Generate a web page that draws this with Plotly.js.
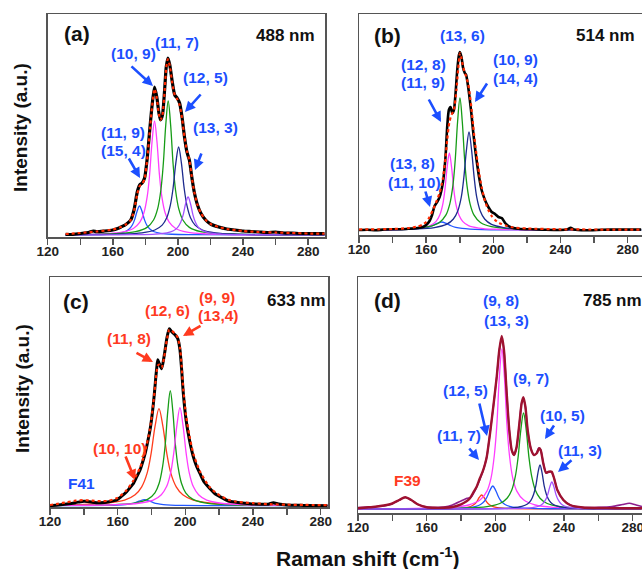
<!DOCTYPE html>
<html><head><meta charset="utf-8">
<script src="https://cdn.plot.ly/plotly-3.0.1.min.js"></script>
<style>html,body{margin:0;padding:0;background:#fff;overflow:hidden}#chart{width:642px;height:569px}</style>
</head><body><div id="chart"></div>
<script>
// ---------- Panel (a) 488 nm ----------
const a_data_x = [131,135,140,145,148,150,155,160,163,165,168,171,173,175,176.5,178,179.5,181,182.5,184,185.6,187,188.3,189.3,190.5,191.8,192.8,193.8,195,196.5,198,199.5,201,202.5,204,205.5,207,208.5,210,212,214,217,220,225,230,235,240,245,250,255,260,265,270,275,280,285,290];
const a_data_y = [0.7,0.5,1.5,2.5,4,3.3,4,5,6.5,8,10.5,15,25,43,50,52,57,75,102,128,148,138,122,115,120,145,168,177,170,153,140,137,132,118,98,83,75,58,43,30,22,15,11,8,6,5,4,3.5,3,2.5,3,2,2,1.5,1.5,1.3,1.3];
const a_fit_x = [131,140,150,160,165,168,171,173,175,176.5,178,179.5,181,182.5,184,185.6,187,188.3,189.3,190.5,191.8,192.8,193.8,195,196.5,198,199.5,201,202.5,204,205.5,207,208.5,210,212,214,217,220,225,230,240,250,260,270,280,290];
const a_fit_y = [1,2,3.5,5.5,8,10.5,15,24,41,49,51,56,74,100,127,146,137,121,115,120,144,167,176,169,152,140,136,130,117,98,84,75,58,43,30,22,15,11,8,6,4,3,2.5,2,1.5,1.3];
const a_blue_x = [131,144.4,156.4,163.4,167.4,169.9,171.9,173.4,174.9,176.4,177.9,179.4,180.9,182.9,185.4,189.4,196.4,208.4,290];
const a_blue_y = [0.14,0.29,0.73,1.66,3.25,5.66,9.74,15.4,23.8,29,23.8,15.4,9.74,5.66,3.25,1.66,0.73,0.29,0.03];
const a_mag_x = [131,153.6,165.6,172.6,176.6,179.1,181.1,182.6,184.1,185.6,187.1,188.6,190.1,192.1,194.6,198.6,205.6,217.6,290];
const a_mag_y = [0.39,1.13,2.85,6.51,12.8,22.2,38.3,60.6,93.5,114,93.5,60.6,38.3,22.2,12.8,6.51,2.85,1.13,0.11];
const a_green_x = [131,162,174,181,185,187.5,189.5,191,192.5,194,195.5,197,198.5,200.5,203,207,214,226,290];
const a_green_y = [0.33,1.33,3.35,7.65,15.0,26.1,45.0,71.3,109.9,134,109.9,71.3,45.0,26.1,15.0,7.65,3.35,1.33,0.15];
const a_navy_x = [131,164.4,177.9,185.8,190.3,193.1,195.3,197,198.7,200.4,202.1,203.8,205.5,207.7,210.5,215,222.9,236.4,290];
const a_navy_y = [0.24,0.87,2.2,5.02,9.86,17.2,29.6,46.8,72.2,88,72.2,46.8,29.6,17.2,9.86,5.02,2.2,0.87,0.14];
const a_vio_x = [131,174.2,186.2,193.2,197.2,199.7,201.7,203.2,204.7,206.2,207.7,209.2,210.7,212.7,215.2,219.2,226.2,238.2,290];
const a_vio_y = [0.07,0.38,0.95,2.17,4.26,7.41,12.8,20.2,31.2,38,31.2,20.2,12.8,7.41,4.26,2.17,0.95,0.38,0.05];

// ---------- Panel (b) 514 nm ----------
const b_data_x = [120,125,130,135,140,145,150,155,158,160,162,163.5,165,166.5,168,170,171.5,172.5,173.5,174.5,175.5,176.5,177.5,178.5,179.5,180.1,181,182,183,183.8,185,186,187,188,189,190,191.5,193,195,197,199,201,203,205,207,209,212,216,222,230,240,244,246,248,255,265,275,288];
const b_data_y = [0,0.3,-0.3,0.5,0.7,0.7,1.3,2,3,5,9,15,24,28,33,48,73,103,120,123,117,120,137,160,175,178,173,162,157,155,143,130,115,98,83,70,53,40,30,23,18,16,13,12,7,4,2,1,0.7,0.3,0,0.7,2.3,0.5,-0.3,0.3,0.5,0.5];
const b_fit_x = [120,140,150,155,158,160,162,164,166,168,170,171.5,172.5,173.8,175,176.5,178,179,180.1,181,182,183.5,185,186,187,188,189,190,191.5,193,195,197,199,201,203,205,208,212,220,240,288];
const b_fit_y = [0.5,1,2,3.5,5.5,8,13,20,28,37,52,72,90,108,115,120,140,160,177,172,163,155,146,135,121,104,88,75,57,43,29,20,14,10,7.5,6,4,2.5,1.5,0.7,0.3];
const b_blue_x = [120,131.7,144.8,152.3,157,160.8,163.6,166.4,169.2,172,174.8,177.6,181.4,186.1,193.6,206.7,229.2,288];
const b_blue_y = [0.12,0.2,0.46,0.9,1.56,2.69,4.26,6.56,8,6.56,4.26,2.69,1.56,0.9,0.46,0.2,0.08,0.01];
const b_mag_x = [120,145.8,156.3,162.4,165.9,168.1,169.9,171.2,172.5,173.8,175.1,176.4,177.7,179.5,181.7,185.2,191.3,201.8,288];
const b_mag_y = [0.21,0.76,1.93,4.40,8.62,15.0,25.9,41.0,63.1,77,63.1,41.0,25.9,15.0,8.62,4.40,1.93,0.76,0.04];
const b_green_x = [120,150.1,161.4,167.9,171.7,174,175.9,177.3,178.7,180.1,181.5,182.9,184.3,186.2,188.5,192.3,198.9,210.1,288];
const b_green_y = [0.33,1.31,3.3,7.54,14.8,25.7,44.4,70.2,108.2,132,108.2,70.2,44.4,25.7,14.8,7.54,3.3,1.31,0.1];
const b_navy_x = [120,152.5,164.9,172.1,176.2,178.8,180.9,182.4,184,185.5,187,188.6,190.1,192.2,194.8,198.9,206.1,218.5,288];
const b_navy_y = [0.25,0.97,2.45,5.6,11.0,19.1,32.9,52.1,80.4,98,80.4,52.1,32.9,19.1,11.0,5.6,2.45,0.97,0.1];

// ---------- Panel (c) 633 nm ----------
const c_data_x = [120,125,130,135,138,140,142,145,150,155,159.4,162,165.3,167,169.2,171,173.2,175,176.2,177.5,179.1,180,181.1,182,182.5,183.1,183.7,184.6,186,187.4,188.2,189,190.5,191.9,193.9,195.5,196.8,197.8,198.8,200.4,202.4,204.7,206.5,208.7,211,214.6,217.5,220.5,225.4,230,235,240,245,249,252,255,260,270,284];
const c_data_y = [0,0.7,1.7,3,4,4.5,4.3,3.5,3,4,5.7,9,14,17.5,22,28,35.7,45,52,62,75.7,86,102,118,128,138,146,142,137,149,158,167,177,174,171,167,156,136,112,86,66,49,40,32,24,17,12,9,4.7,3.5,2.5,1.7,1.5,1.5,3,1.7,0.7,0.3,0];
const c_fit_x = [120,125,130,135,140,145,150,155,160,165,169.2,173.2,176.2,179.1,181.1,182.5,183.7,184.6,186,187.4,189,190.5,191.9,193.9,195.5,196.8,197.8,198.8,200.4,202.4,204.7,208.7,214.6,220.5,225.4,230,240,250,260,270,284];
const c_fit_y = [0.7,2,3.5,5,5.5,5,4.5,5,8,15,25,38,54,77,103,126,140,141,138,148,165,176,175,172,168,158,140,116,90,70,52,34,18,10,6,4,2.5,1.5,1,0.8,0.5];
const c_red_x = [120,134.4,153.1,164.1,170.3,174.2,177.4,179.7,182.1,184.4,186.7,189.1,191.4,194.6,198.5,204.7,215.7,234.4,284];
const c_red_y = [0.58,0.96,2.43,5.54,10.9,18.9,32.6,51.6,79.5,97,79.5,51.6,32.6,18.9,10.9,5.54,2.43,0.96,0.24];
const c_green_x = [120,158.6,170.8,177.9,182,184.5,186.5,188.1,189.6,191.1,192.6,194.1,195.7,197.7,200.2,204.3,211.4,223.6,284];
const c_green_y = [0.24,1.14,2.88,6.57,12.9,22.4,38.6,61.2,94.3,115,94.3,61.2,38.6,22.4,12.9,6.57,2.88,1.14,0.14];
const c_mag_x = [120,157.8,172.4,181,185.8,188.9,191.3,193.1,195,196.8,198.6,200.5,202.3,204.7,207.8,212.6,221.2,235.8,284];
const c_mag_y = [0.25,0.97,2.45,5.6,11,19.1,32.9,52.1,80.4,98,80.4,52.1,32.9,19.1,11,5.6,2.45,0.97,0.19];
const c_blue_x = [120,141.4,153.4,160.3,164.6,168.1,170.6,173.2,175.8,178.4,181,183.5,187,191.3,198.2,210.2,231.6,284];
const c_blue_y = [0.06,0.15,0.34,0.67,1.17,2.02,3.19,4.92,6,4.92,3.19,2.02,1.17,0.67,0.34,0.15,0.06,0.02];

// ---------- Panel (d) 785 nm ----------
const d_data_x = [120,125,130,135,140,144,147.5,151,155,160,165,170,175,180,183.5,186,189.1,192.6,195,196.9,198.8,200.8,202.3,203.7,205,206.6,208.1,209.5,210.9,212.4,214,215.3,216.3,217.5,218.8,220.6,222.5,224.1,225.2,226.4,227.9,229.5,231.1,232.6,234.2,236.1,239.6,243.5,251,260,268,274,278,282,285.4];
const d_data_y = [1.5,2,2.3,3,5.3,9,11.7,9,4.5,2,1.5,2,4,8,10.7,12,22,37,52,76,102,132,159,171,159,116,79,59,54,62,86,106,110,102,79,61,54,56,61,59,46,36,37,37,31,19,9,4,1.5,1.7,2.5,4.5,5.7,4,2.5];
const d_fit_x = [120,125,130,135,140,144,147.5,151,155,160,165,170,175,180,183,185.2,187,189.1,190.8,192.6,194,195,196.9,198.8,200.8,202.3,203.7,205,206.6,208.1,209.5,210.9,212.4,214,215.3,216.3,217.5,218.8,220.6,222.5,224.1,225.5,226.4,227.9,229.5,231.1,232.8,234.2,236.1,239.6,243.5,251,260,270,285.4];
const d_fit_y = [0.7,1.5,2.3,3.5,5.5,9,11.7,9,4.5,1.7,1.2,1.3,2,4.7,7.5,10.7,16,22.3,30,37.3,45,52.3,75.7,102.3,132.3,159,173,159,115.7,79,59,54,62.3,85.7,105.7,111.7,102.3,79,60.7,54,55.7,60.7,59,45.7,36.3,37.3,37.3,30.7,19,9,4,1.5,1,0.8,0.7];
const d_red_x = [120,162,173.3,179.8,183.6,185.9,187.8,189.2,190.6,192,193.4,194.8,196.2,198.1,200.4,204.2,210.8,222,285];
const d_red_y = [0.02,0.14,0.35,0.8,1.57,2.73,4.7,7.45,11.5,14,11.5,7.45,4.7,2.73,1.57,0.8,0.35,0.14,0.01];
const d_blue_x = [120,163.5,176.6,184.3,188.7,191.4,193.6,195.2,196.9,198.5,200.1,201.8,203.4,205.6,208.3,212.7,220.4,233.5,285];
const d_blue_y = [0.05,0.23,0.58,1.31,2.58,4.49,7.73,12.2,18.9,23,18.9,12.2,7.73,4.49,2.58,1.31,0.58,0.23,0.04];
const d_mag_x = [120,172.8,184.4,191.2,195.1,197.5,199.4,200.9,202.3,203.8,205.3,206.7,208.2,210.1,212.5,216.4,223.2,234.8,285];
const d_mag_y = [0.22,1.58,4.0,9.14,17.9,31.2,53.8,85.1,131.2,160,131.2,85.1,53.8,31.2,17.9,9.14,4.0,1.58,0.23];
const d_green_x = [120,182.4,195.1,202.6,206.8,209.5,211.6,213.2,214.8,216.4,218,219.6,221.2,223.3,226,230.2,237.7,250.4,285];
const d_green_y = [0.12,0.95,2.4,5.48,10.8,18.7,32.3,51.1,78.7,96,78.7,51.1,32.3,18.7,10.8,5.48,2.4,0.95,0.24];
const d_navy_x = [120,200,209.7,215.4,218.7,220.7,222.3,223.6,224.8,226,227.2,228.4,229.7,231.3,233.3,236.6,242.3,252,285];
const d_navy_y = [0.03,0.44,1.1,2.51,4.93,8.58,14.8,23.4,36.1,44,36.1,23.4,14.8,8.58,4.93,2.51,1.1,0.44,0.09];
const d_vio_x = [120,206.9,216.6,222.3,225.6,227.6,229.2,230.5,231.7,232.9,234.1,235.3,236.6,238.2,240.2,243.5,249.2,258.9,285];
const d_vio_y = [0.02,0.27,0.68,1.54,3.02,5.27,9.07,14.4,22.1,27,22.1,14.4,9.07,5.27,3.02,1.54,0.68,0.27,0.07];

// ---------- styling ----------
const W = 642, H = 569;
const FONT = 'Liberation Sans, Arial, Helvetica, sans-serif';
const C = {blue:'#2257ff', mag:'#ff3dff', green:'#169c16', navy:'#1d2b8e', vio:'#a251ff', red:'#ff3c1c',
           black:'#000000', fit:'#ff2a00', dred:'#9e1230', purple:'#8e1f8e', txtBlue:'#1c4fff', txtRed:'#ff3a1f'};

function ln(x, y, xa, ya, color, width, dash, smooth) {
  return {type:'scatter', mode:'lines', x:x, y:y, xaxis:xa, yaxis:ya, hoverinfo:'skip', showlegend:false,
          line:{color:color, width:width, dash:dash || 'solid', shape:'spline', smoothing: smooth === undefined ? 1 : smooth}};
}

const traces = [
  // (a)
  ln(a_blue_x, a_blue_y, 'x', 'y', C.blue, 1.3),
  ln(a_mag_x, a_mag_y, 'x', 'y', C.mag, 1.3),
  ln(a_green_x, a_green_y, 'x', 'y', C.green, 1.3),
  ln(a_navy_x, a_navy_y, 'x', 'y', C.navy, 1.3),
  ln(a_vio_x, a_vio_y, 'x', 'y', C.vio, 1.3),
  ln(a_data_x, a_data_y, 'x', 'y', C.black, 3.2, 'solid', 0.6),
  ln(a_fit_x, a_fit_y, 'x', 'y', C.fit, 2.2, 'dot', 0.6),
  // (b)
  ln(b_blue_x, b_blue_y, 'x2', 'y2', C.blue, 1.3),
  ln(b_mag_x, b_mag_y, 'x2', 'y2', C.mag, 1.3),
  ln(b_green_x, b_green_y, 'x2', 'y2', C.green, 1.3),
  ln(b_navy_x, b_navy_y, 'x2', 'y2', C.navy, 1.3),
  ln(b_data_x, b_data_y, 'x2', 'y2', C.black, 2.6, 'solid', 0.6),
  ln(b_fit_x, b_fit_y, 'x2', 'y2', C.fit, 2.2, 'dot', 0.6),
  // (c)
  ln(c_blue_x, c_blue_y, 'x3', 'y3', C.blue, 1.3),
  ln(c_red_x, c_red_y, 'x3', 'y3', C.red, 1.3),
  ln(c_green_x, c_green_y, 'x3', 'y3', C.green, 1.3),
  ln(c_mag_x, c_mag_y, 'x3', 'y3', C.mag, 1.3),
  ln(c_data_x, c_data_y, 'x3', 'y3', C.black, 3, 'solid', 0.6),
  ln(c_fit_x, c_fit_y, 'x3', 'y3', C.fit, 2.2, 'dot', 0.6),
  // (d)
  ln(d_red_x, d_red_y, 'x4', 'y4', C.red, 1.3),
  ln(d_blue_x, d_blue_y, 'x4', 'y4', C.blue, 1.3),
  ln(d_mag_x, d_mag_y, 'x4', 'y4', C.mag, 1.3),
  ln(d_green_x, d_green_y, 'x4', 'y4', C.green, 1.3),
  ln(d_navy_x, d_navy_y, 'x4', 'y4', C.navy, 1.3),
  ln(d_vio_x, d_vio_y, 'x4', 'y4', C.vio, 1.3),
  ln(d_data_x, d_data_y, 'x4', 'y4', C.purple, 1.6, 'solid', 0.6),
  ln(d_fit_x, d_fit_y, 'x4', 'y4', C.dred, 2.4, 'solid', 0.6)
];

const tickfont = {family:FONT, size:13.5, color:'#222', weight:'bold'};
function xax(d0, d1, range, anchor) {
  return {domain:[d0/W, d1/W], range:range, anchor:anchor, showline:true, linecolor:'#555', linewidth:1.5, mirror:true,
          ticks:'outside', ticklen:6, tickwidth:1.5, tickcolor:'#555', tickmode:'linear', tick0:120, dtick:40,
          ticklabelstandoff:-5, ticklabeloverflow:'allow',
          minor:{ticks:'outside', tick0:120, dtick:20, ticklen:6, tickwidth:1.5, tickcolor:'#555'},
          showgrid:false, zeroline:false, tickfont:tickfont, fixedrange:true};
}
function yax(top, bottom, range, anchor, mirror) {
  return {domain:[1 - bottom/H, 1 - top/H], range:range, anchor:anchor, showline:true, linecolor:'#555', linewidth:1.5,
          mirror:mirror, ticks:'', showticklabels:false, showgrid:false, zeroline:false, fixedrange:true};
}

function txt(s, px, py, size, color, extra) {
  return Object.assign({text:s, x:px/W, y:1 - py/H, xref:'paper', yref:'paper', showarrow:false,
          xanchor:'center', yanchor:'middle', font:{family:FONT, size:size, color:color, weight:'bold'}}, extra || {});
}
function arr(tx, ty, hx, hy, color) {
  return {text:'', x:hx/W, y:1 - hy/H, xref:'paper', yref:'paper', showarrow:true, ax:tx - hx, ay:ty - hy,
          arrowcolor:color, arrowwidth:2.6, arrowhead:2, arrowsize:0.8};
}
const L = 15.5, B = C.txtBlue, R = C.txtRed;
const annotations = [
  // (a)
  txt('(a)', 77, 33, 21, '#111'), txt('488 nm', 285, 35, 17, '#111'),
  txt('(10, 9)', 133, 53, L, B), txt('(11, 7)', 177, 42, L, B), txt('(12, 5)', 205, 77, L, B),
  txt('(11, 9)', 123, 132, L, B), txt('(15, 4)', 123, 150, L, B), txt('(13, 3)', 215, 127, L, B),
  arr(130, 65, 153, 86, B), arr(202, 93, 185, 112, B), arr(128, 157, 140, 178, B), arr(202, 152, 195, 170, B),
  // (b)
  txt('(b)', 387, 35, 21, '#111'), txt('514 nm', 605, 35, 17, '#111'),
  txt('(13, 6)', 462, 35, L, B), txt('(12, 8)', 423, 65, L, B), txt('(11, 9)', 423, 83, L, B),
  txt('(10, 9)', 515, 59, L, B), txt('(14, 4)', 515, 78, L, B),
  txt('(13, 8)', 412, 163, L, B), txt('(11, 10)', 414, 182, L, B),
  arr(428, 98, 441, 122, B), arr(488, 82, 475, 102, B), arr(425, 190, 430, 207, B),
  // (c)
  txt('(c)', 76, 302, 21, '#111'), txt('633 nm', 296, 300, 17, '#111'),
  txt('(11, 8)', 129, 338, L, R), txt('(12, 6)', 168, 310, L, R), txt('(9, 9)', 217, 297, L, R),
  txt('(13,4)', 218, 315, L, R), txt('(10, 10)', 119, 448, L, R), txt('F41', 82, 483, L, B),
  arr(135, 352, 153, 362, R), arr(202, 325, 183, 336, R), arr(125, 455, 135, 480, R),
  // (d)
  txt('(d)', 387, 300, 21, '#111'), txt('785 nm', 612, 300, 17, '#111'),
  txt('(9, 8)', 501, 300, L, B), txt('(13, 3)', 506, 320, L, B), txt('(9, 7)', 531, 378, L, B),
  txt('(12, 5)', 465, 390, L, B), txt('(11, 7)', 459, 435, L, B), txt('(10, 5)', 562, 415, L, B),
  txt('(11, 3)', 580, 450, L, B), txt('F39', 407, 480, L, R),
  arr(479, 402, 487, 436, B), arr(468, 447, 479, 460, B), arr(555, 424, 545, 439, B), arr(573, 459, 558, 472, B),
  // axis titles
  txt('Intensity (a.u.)', 21, 128, 19, '#111', {textangle:-90}),
  txt('Intensity (a.u.)', 22, 389, 19, '#111', {textangle:-90}),
  txt('Raman shift (cm<sup>-1</sup>)', 368, 557, 21, '#111')
];

const layout = {
  width:W, height:H, margin:{l:0, r:0, t:0, b:0}, paper_bgcolor:'#fff', plot_bgcolor:'rgba(0,0,0,0)',
  showlegend:false,
  xaxis: xax(47.7, 325, [120, 290.3], 'y'),
  yaxis: yax(14, 237, [-2, 221], 'x', true),
  xaxis2: xax(359, 642, [120, 288.5], 'y2'),
  yaxis2: yax(14, 235, [-5, 216], 'x2', false),
  xaxis3: xax(50, 328, [120, 284.3], 'y3'),
  yaxis3: yax(277, 507, [-1.3, 228.7], 'x3', true),
  xaxis4: xax(358, 642, [120, 285.4], 'y4'),
  yaxis4: yax(277, 513, [-4, 232], 'x4', false),
  annotations: annotations
};
Plotly.newPlot('chart', traces, layout, {staticPlot:true, displayModeBar:false});
</script></body></html>
